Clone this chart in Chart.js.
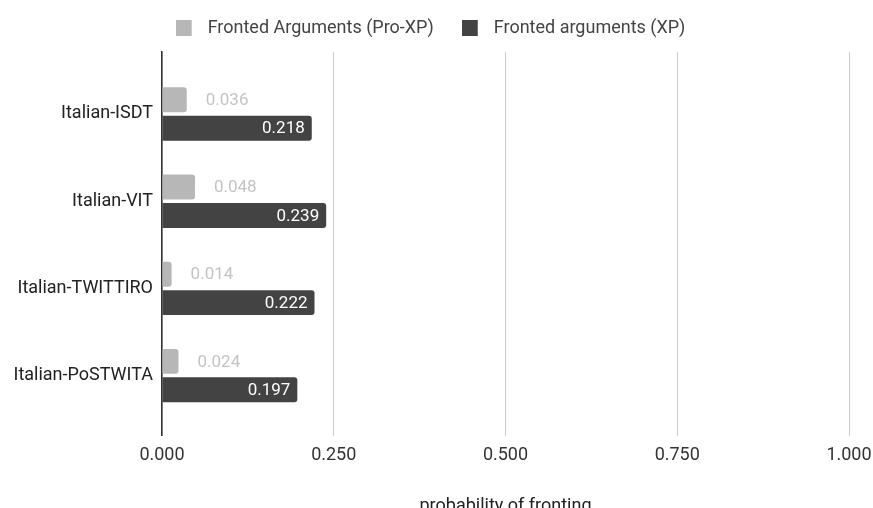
<!DOCTYPE html>
<html>
<head>
<meta charset="utf-8">
<script src="https://cdn.jsdelivr.net/npm/chart.js@4"></script>
<style>
  html, body { margin: 0; padding: 0; background: #fff; overflow: hidden; }
  #wrap { width: 873px; height: 523px; }
</style>
</head>
<body>
<div id="wrap"><canvas id="chart"></canvas></div>
<script>
// corpora (categories)
const corpora = ["Italian-ISDT", "Italian-VIT", "Italian-TWITTIRO", "Italian-PoSTWITA"];
// probability of fronting
const proXP = [0.036, 0.048, 0.014, 0.024];
const xp = [0.218, 0.239, 0.222, 0.197];
const xTicks = [0, 0.25, 0.5, 0.75, 1];

const FONT = "Roboto, 'Liberation Sans', Arial, sans-serif";
const colors = ["#b7b7b7", "#434343"];

// legend swatch: 16px square with some empty room on its right
function swatch(color) {
  const c = document.createElement("canvas");
  c.width = 23;
  c.height = 16;
  const g = c.getContext("2d");
  g.fillStyle = color;
  g.fillRect(0, 0, 16, 16);
  return c;
}
const swatches = colors.map(swatch);

// value labels next to / inside the bars
const barLabels = {
  id: "barLabels",
  afterDatasetsDraw(chart) {
    const ctx = chart.ctx;
    ctx.save();
    ctx.font = "17px " + FONT;
    ctx.textBaseline = "middle";
    chart.data.datasets.forEach((ds, i) => {
      const meta = chart.getDatasetMeta(i);
      meta.data.forEach((bar, j) => {
        const txt = ds.data[j].toFixed(3);
        if (i === 0) {
          ctx.fillStyle = "#c4c4c4";
          ctx.textAlign = "left";
          ctx.fillText(txt, bar.x + 19, bar.y + 1);
        } else {
          ctx.fillStyle = "#ffffff";
          ctx.textAlign = "right";
          ctx.fillText(txt, bar.x - 7, bar.y + 1);
        }
      });
    });
    ctx.restore();
  }
};

// a bit more room under the legend
const legendGap = {
  id: "legendGap",
  beforeInit(chart) {
    const fit = chart.legend.fit;
    chart.legend.fit = function () {
      fit.call(this);
      this.height += 5;
    };
  }
};

new Chart(document.getElementById("chart"), {
  type: "bar",
  data: {
    labels: corpora,
    datasets: [
      {
        label: "Fronted Arguments (Pro-XP)",
        data: proXP,
        backgroundColor: colors[0],
        borderRadius: 3,
        categoryPercentage: 0.653,
        barPercentage: 0.877
      },
      {
        label: "Fronted arguments (XP)",
        data: xp,
        backgroundColor: colors[1],
        borderRadius: 3,
        categoryPercentage: 0.653,
        barPercentage: 0.877
      }
    ]
  },
  options: {
    indexAxis: "y",
    responsive: true,
    maintainAspectRatio: false,
    animation: false,
    layout: { padding: { left: 12, right: 24, top: -9, bottom: 2 } },
    plugins: {
      legend: {
        position: "top",
        labels: {
          usePointStyle: true,
          pointStyleWidth: 23,
          boxHeight: 16,
          padding: 28,
          color: "#444",
          font: { family: FONT, size: 18 },
          generateLabels(chart) {
            const items = Chart.defaults.plugins.legend.labels.generateLabels(chart);
            items.forEach((it, i) => { it.pointStyle = swatches[i]; });
            return items;
          }
        }
      },
      tooltip: { enabled: false }
    },
    scales: {
      x: {
        min: 0,
        max: 1,
        afterBuildTicks: (s) => { s.ticks = xTicks.map(v => ({ value: v })); },
        grid: { color: "#cccccc", drawTicks: true, tickLength: 9, tickColor: "rgba(0,0,0,0)" },
        border: { display: false },
        ticks: {
          padding: 0,
          color: "#333",
          font: { family: FONT, size: 18 },
          callback: (v) => Number(v).toFixed(3)
        },
        title: {
          display: true,
          text: "probability of fronting",
          color: "#222",
          padding: { top: 29, bottom: 4 },
          font: { family: FONT, size: 18 }
        }
      },
      y: {
        grid: { display: true, color: "rgba(0,0,0,0)", drawTicks: false },
        border: { display: true, color: "#333", width: 1.5 },
        afterFit: (s) => { s.width = 150; },
        // extra space above first / below last category, in category units
        afterBuildTicks: (s) => { s._startValue = -0.71; s._valueRange = 4.40; },
        ticks: {
          padding: 9,
          color: "#222",
          font: { family: FONT, size: 18 }
        }
      }
    }
  },
  plugins: [barLabels, legendGap]
});
</script>
</body>
</html>
